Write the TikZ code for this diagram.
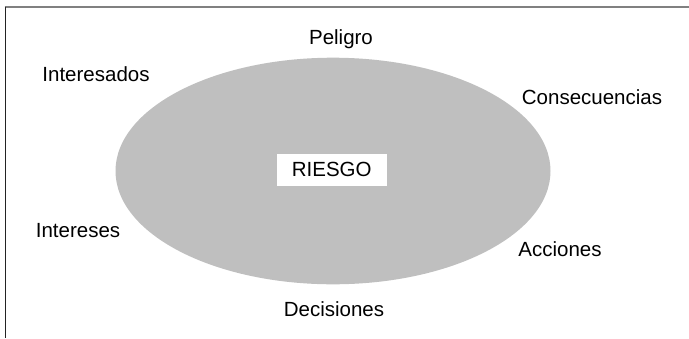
\documentclass[tikz,border=0pt]{standalone}
\usepackage{fontspec}
\setmainfont{Liberation Sans}
\usetikzlibrary{shapes.geometric}
\definecolor{ellgray}{RGB}{191,191,191}
\definecolor{framegray}{RGB}{128,128,128}
\definecolor{framedark}{RGB}{35,35,35}
\tikzset{
  lbl/.style={anchor=base, inner sep=0pt, font=\fontsize{20.5}{24}\selectfont, text=black},
  riskell/.style={ellipse, fill=ellgray, draw=none, minimum width=435pt, minimum height=226.6pt, inner sep=0pt},
  riskbox/.style={fill=white, draw=none, minimum width=110pt, minimum height=31.7pt, inner sep=0pt, font=\fontsize{20.5}{24}\selectfont},
  topline/.style={draw=framegray, line width=1.6pt},
  leftline/.style={draw=framedark, line width=1.3pt}
}
\begin{document}
\begin{tikzpicture}[x=1pt,y=-1pt]
\useasboundingbox (0,0) rectangle (689,338);
\coordinate (tl) at (4.6,7.2);
\coordinate (tr) at (689,7.2);
\coordinate (bl) at (5.3,338);
\coordinate (tlv) at (5.3,6.5);
\draw[topline] (tl) -- (tr);
\draw[leftline] (tlv) -- (bl);
\node[riskell] (risk) at (333,171) {};
\node[riskbox] (riesgo) at (331.7,170) {};
\node[lbl] (riesgotxt) at (331.7,176) {RIESGO};
\node[lbl] (peligro) at (341,44) {Peligro};
\node[lbl] (interesados) at (96,81) {Interesados};
\node[lbl] (consecuencias) at (592,104.3) {Consecuencias};
\node[lbl] (intereses) at (78,237.7) {Intereses};
\node[lbl] (acciones) at (560,256.7) {Acciones};
\node[lbl] (decisiones) at (334,316) {Decisiones};
\end{tikzpicture}
\end{document}
